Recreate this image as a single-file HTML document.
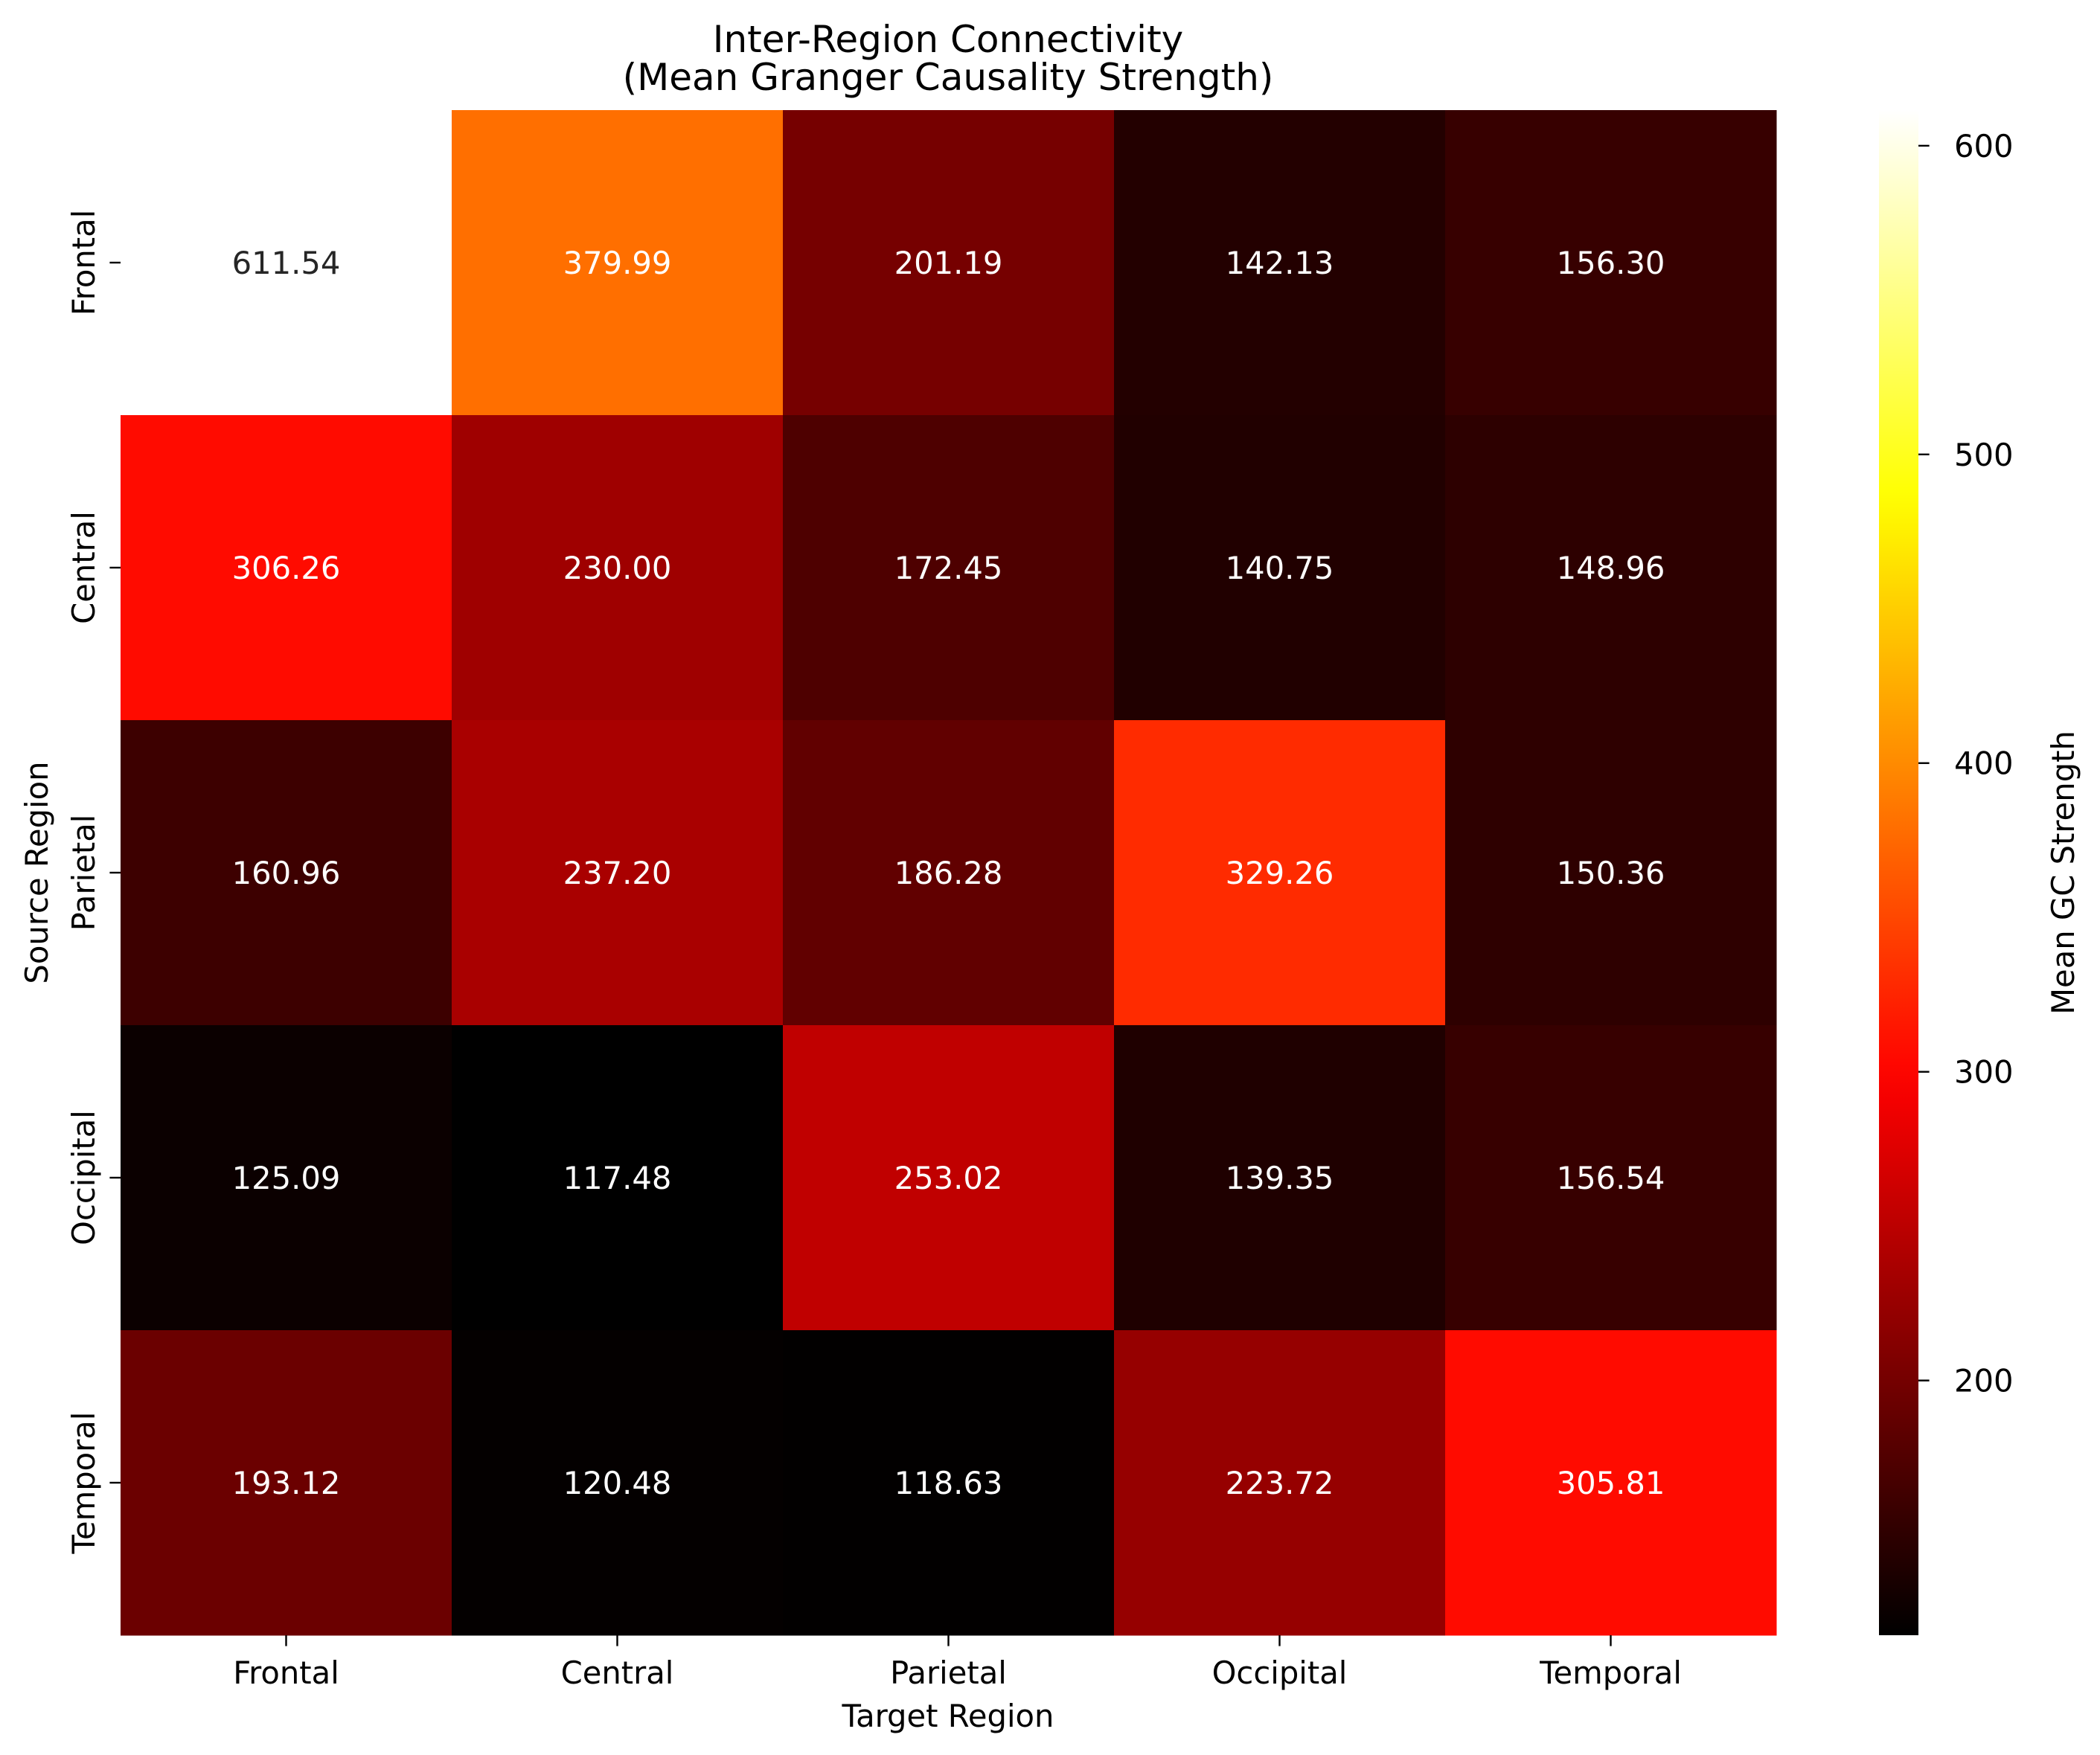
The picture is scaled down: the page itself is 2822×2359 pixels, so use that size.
<!DOCTYPE html>
<html><head><meta charset="utf-8"><style>
body{margin:0;background:#fff}
svg{display:block;font-family:"DejaVu Sans","Liberation Sans",sans-serif}
</style></head><body>
<svg id="chart" width="2822" height="2359" xmlns="http://www.w3.org/2000/svg">
<text x="1274" y="70" font-size="50" text-anchor="middle">Inter-Region Connectivity</text>
<text x="1274" y="121" font-size="50" text-anchor="middle">(Mean Granger Causality Strength)</text>
<g id="cells"></g><g id="axes"></g><g id="cbar"></g>
<text x="1274" y="2321" font-size="41.7" text-anchor="middle">Target Region</text>
<text transform="translate(64,1173) rotate(-90)" font-size="41.7" text-anchor="middle">Source Region</text>
<text transform="translate(2787,1173) rotate(-90)" font-size="41.7" text-anchor="middle">Mean GC Strength</text>
</svg>
<script>
const regions=["Frontal","Central","Parietal","Occipital","Temporal"];
const values=[
[611.54,379.99,201.19,142.13,156.30],
[306.26,230.00,172.45,140.75,148.96],
[160.96,237.20,186.28,329.26,150.36],
[125.09,117.48,253.02,139.35,156.54],
[193.12,120.48,118.63,223.72,305.81]];
const cbarTicks=[200,300,400,500,600];
const NS="http://www.w3.org/2000/svg";
const L=162,R=2387,T=148,B=2198;
const all=values.flat(),vmin=Math.min(...all),vmax=Math.max(...all);
const cw=(R-L)/regions.length,ch=(B-T)/regions.length;
function hot(t){t=Math.max(0,Math.min(1,t));
 const r=Math.min(1,t/0.365079),g=Math.max(0,Math.min(1,(t-0.365079)/(0.746032-0.365079))),b=Math.max(0,Math.min(1,(t-0.746032)/(1-0.746032)));
 return [r,g,b];}
function rgb(c){return `rgb(${Math.round(c[0]*255)},${Math.round(c[1]*255)},${Math.round(c[2]*255)})`;}
function lin(x){return x<=0.03928?x/12.92:Math.pow((x+0.055)/1.055,2.4);}
function mk(tag,attrs,parent){const e=document.createElementNS(NS,tag);for(const k in attrs)e.setAttribute(k,attrs[k]);parent.appendChild(e);return e;}
const cells=document.getElementById('cells'),axes=document.getElementById('axes'),cbar=document.getElementById('cbar');
values.forEach((row,i)=>row.forEach((v,j)=>{
 const c=hot((v-vmin)/(vmax-vmin));
 const rect=mk('rect',{x:L+j*cw,y:T+i*ch,width:cw+0.5,height:ch+0.5,fill:rgb(c)},cells);
 
 
 const lum=0.2126*lin(c[0])+0.7152*lin(c[1])+0.0722*lin(c[2]);
 const t=mk('text',{x:L+(j+0.5)*cw,y:T+(i+0.5)*ch+15,'font-size':41.7,'text-anchor':'middle',fill:lum>0.408?'#262626':'#fff'},cells);
 t.textContent=v.toFixed(2);
 
 
}));
regions.forEach((r,k)=>{
 const x=L+(k+0.5)*cw;
 mk('line',{x1:x,x2:x,y1:B,y2:B+14.6,stroke:'#000','stroke-width':2.4},axes);
 const t=mk('text',{x:x,y:B+65,'font-size':41.7,'text-anchor':'middle'},axes);t.textContent=r;
 
 
 const y=T+(k+0.5)*ch;
 mk('line',{x1:L-14.6,x2:L,y1:y,y2:y,stroke:'#000','stroke-width':2.4},axes);
 const u=mk('text',{transform:`translate(127,${y}) rotate(-90)`,'font-size':41.7,'text-anchor':'middle'},axes);u.textContent=r;
 
 
});
// colorbar
const CX=2525,CW=53;
const defs=mk('defs',{},cbar);
const g=mk('linearGradient',{id:'hotg',x1:0,y1:1,x2:0,y2:0},defs);
for(let s=0;s<=40;s++){mk('stop',{offset:s/40,'stop-color':rgb(hot(s/40))},g);}
const cb=mk('rect',{x:CX,y:T,width:CW,height:B-T,fill:'url(#hotg)'},cbar);


cbarTicks.forEach(v=>{
 const y=B-(v-vmin)/(vmax-vmin)*(B-T);
 mk('line',{x1:CX+CW,x2:CX+CW+14.6,y1:y,y2:y,stroke:'#000','stroke-width':2.4},cbar);
 const t=mk('text',{x:2626,y:y+15,'font-size':41.7},cbar);t.textContent=v;
 
 
});
</script>
</body></html>
